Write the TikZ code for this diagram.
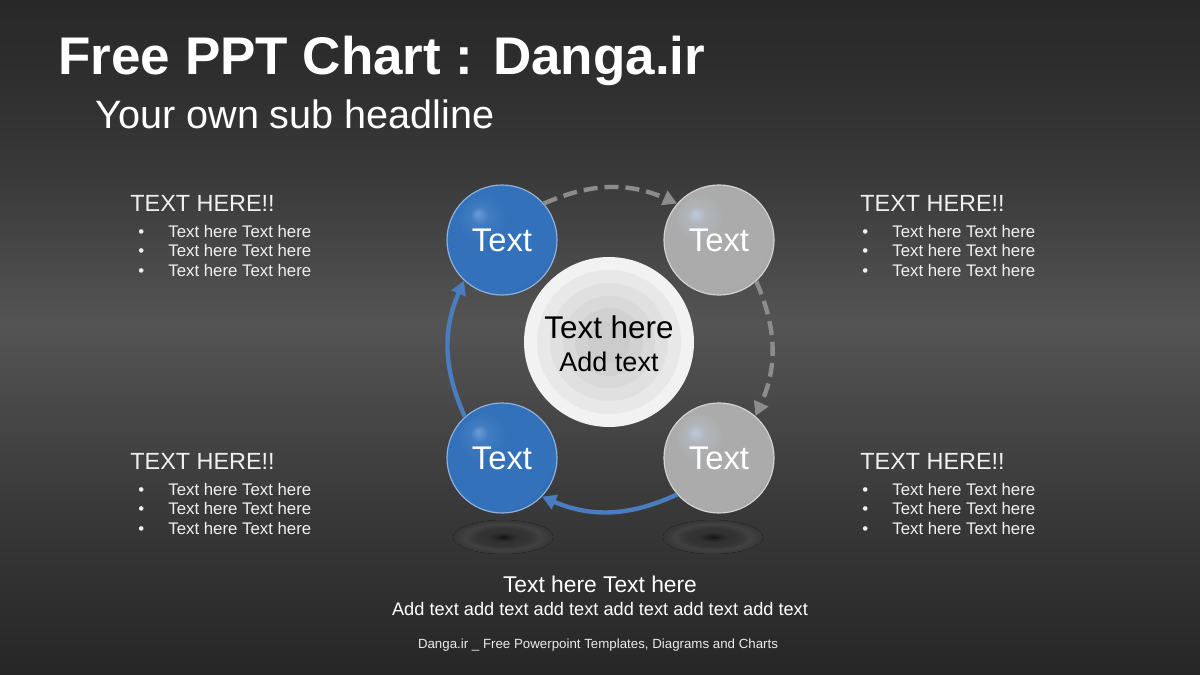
\documentclass[tikz,border=0pt]{standalone}
\usepackage{fontspec}
\setmainfont{Liberation Sans}
\usetikzlibrary{arrows.meta}

\definecolor{bgtop}{HTML}{282828}
\definecolor{bgmid}{HTML}{545454}
\definecolor{bgbot}{HTML}{262626}
\definecolor{floorbg}{HTML}{353535}
\definecolor{blbase}{HTML}{3371BA}
\definecolor{bldark}{HTML}{285B9E}
\definecolor{blhi}{HTML}{6C9DD8}
\definecolor{blrim}{HTML}{8FB0DA}
\definecolor{grbase}{HTML}{ABABAB}
\definecolor{grdark}{HTML}{999999}
\definecolor{grhi}{HTML}{BCCADC}
\definecolor{grrim}{HTML}{D2D2D2}
\definecolor{flowblue}{HTML}{4A7CC0}
\definecolor{flowgrey}{HTML}{8C8C8C}

\pgfdeclareverticalshading{slidebg}{100bp}{color(0bp)=(bgbot); color(25bp)=(bgbot); color(37bp)=(bgbot!60!bgmid); color(51bp)=(bgmid); color(62bp)=(bgtop!60!bgmid); color(69bp)=(bgtop!85!bgmid); color(75bp)=(bgtop); color(100bp)=(bgtop)}
\pgfdeclareradialshading{bluesphere}{\pgfpoint{-11bp}{12bp}}{color(0bp)=(blhi); color(4bp)=(blbase!75!blhi); color(11bp)=(blbase); color(30bp)=(blbase); color(40bp)=(bldark); color(60bp)=(bldark)}
\pgfdeclareradialshading{greysphere}{\pgfpoint{-11bp}{12bp}}{color(0bp)=(grhi); color(4bp)=(grbase!65!grhi); color(11bp)=(grbase); color(30bp)=(grbase); color(40bp)=(grdark); color(60bp)=(grdark)}
\pgfdeclareradialshading{floorshadow}{\pgfpointorigin}{color(0bp)=(floorbg!30!black); color(2.5bp)=(floorbg!60!black); color(7bp)=(floorbg!92!black); color(13bp)=(floorbg!97!black); color(19bp)=(floorbg!94!white); color(22bp)=(floorbg!97!white); color(25bp)=(floorbg); color(50bp)=(floorbg)}

\def\bul#1{\makebox[15pt][l]{\textbullet}#1}

\tikzset{
	bluebubble/.style={circle, minimum size=55pt, inner sep=0pt, shading=bluesphere, draw=blrim, line width=0.6pt, text=white, font=\fontsize{16.4}{16}\selectfont},
	greybubble/.style={circle, minimum size=55pt, inner sep=0pt, shading=greysphere, draw=grrim, line width=0.6pt, text=white, font=\fontsize{16.4}{16}\selectfont},
	blueflow/.style={line width=2.2pt, color=flowblue, -{Triangle[length=7pt,width=7.5pt]}},
	greyflow/.style={line width=2.2pt, color=flowgrey, dash pattern=on 7pt off 3.5pt, -{Triangle[length=7pt,width=7.5pt]}},
	heading/.style={anchor=base west, inner sep=0pt, text=white!94!black, font=\fontsize{11.7}{14}\selectfont},
	bulline/.style={anchor=base west, inner sep=0pt, text=white!94!black, font=\fontsize{8.4}{10}\selectfont}
}

\begin{document}
\begin{tikzpicture}[x=0.5pt, y=-0.5pt]
		%%%%% START %%%%%
		
		\fill[shading=slidebg] (0, 0) rectangle (1200, 675);
		\useasboundingbox (0, 0) rectangle (1200, 675);
		
		\node[anchor=base west, inner sep=0pt, text=white, font=\fontsize{26.5}{30}\selectfont\bfseries] (title) at (58, 74) {Free PPT Chart : Danga.ir};
		\node[anchor=base west, inner sep=0pt, text=white, font=\fontsize{19.8}{24}\selectfont] (subtitle) at (95, 128) {Your own sub headline};
		
		% floor shadows
		\fill[shading=floorshadow] (503, 537) ellipse (50 and 17);
		\fill[shading=floorshadow] (713, 537) ellipse (50 and 17);
		
		% hub rings
		\coordinate (hubc) at (609, 342);
		\fill[color=white!95!black] (hubc) circle (85);
		\fill[color=white!91!black] (hubc) circle (72);
		\fill[color=white!88!black] (hubc) circle (59);
		\fill[color=white!85!black] (hubc) circle (46);
		\fill[color=white!82!black] (hubc) circle (34);
		\fill[color=white!80!black] (hubc) circle (21);
		\node[circle, minimum size=85pt, inner sep=0pt, align=center, text=black, yshift=-1pt, font=\fontsize{15.7}{16.5}\selectfont] (hub) at (hubc) {Text here\\\fontsize{13.5}{16.5}\selectfont Add text};
		
		% bubbles
		\node[bluebubble] (tl) at (502, 240) {Text};
		\node[greybubble] (tr) at (719, 240) {Text};
		\node[bluebubble] (bl) at (502, 458) {Text};
		\node[greybubble] (br) at (719, 458) {Text};
		
		\draw[greyflow] (tl.41) to[bend left=24] (tr.139);
		\draw[greyflow] (tr.-48) to[bend left=24] (br.49);
		\draw[blueflow] (br.-139) to[bend left=24] (bl.-44);
		\draw[blueflow] (bl.132) to[bend left=24] (tl.-133);
		
		% left texts
		\node[heading] (lhead1) at (130, 211) {TEXT HERE!!};
		\node[bulline] (lline1a) at (138, 237) {\bul{Text here Text here}};
		\node[bulline] (lline1b) at (138, 256) {\bul{Text here Text here}};
		\node[bulline] (lline1c) at (138, 276) {\bul{Text here Text here}};
		
		\node[heading] (lhead2) at (130, 469) {TEXT HERE!!};
		\node[bulline] (lline2a) at (138, 495) {\bul{Text here Text here}};
		\node[bulline] (lline2b) at (138, 514) {\bul{Text here Text here}};
		\node[bulline] (lline2c) at (138, 534) {\bul{Text here Text here}};
		
		% right texts
		\node[heading] (rhead1) at (860, 211) {TEXT HERE!!};
		\node[bulline] (rline1a) at (862, 237) {\bul{Text here Text here}};
		\node[bulline] (rline1b) at (862, 256) {\bul{Text here Text here}};
		\node[bulline] (rline1c) at (862, 276) {\bul{Text here Text here}};
		
		\node[heading] (rhead2) at (860, 469) {TEXT HERE!!};
		\node[bulline] (rline2a) at (862, 495) {\bul{Text here Text here}};
		\node[bulline] (rline2b) at (862, 514) {\bul{Text here Text here}};
		\node[bulline] (rline2c) at (862, 534) {\bul{Text here Text here}};
		
		% bottom texts
		\node[anchor=base, inner sep=0pt, text=white, font=\fontsize{11.4}{13}\selectfont] (note) at (600, 592) {Text here Text here};
		\node[anchor=base, inner sep=0pt, text=white, font=\fontsize{9.1}{11}\selectfont] (notesub) at (600, 615) {Add text add text add text add text add text add text};
		\node[anchor=base, inner sep=0pt, text=white!92!black, font=\fontsize{6.65}{8}\selectfont] (footer) at (598, 648) {Danga.ir \_ Free Powerpoint Templates, Diagrams and Charts};
		
		%%%%% END %%%%%
	\end{tikzpicture}
\end{document}
